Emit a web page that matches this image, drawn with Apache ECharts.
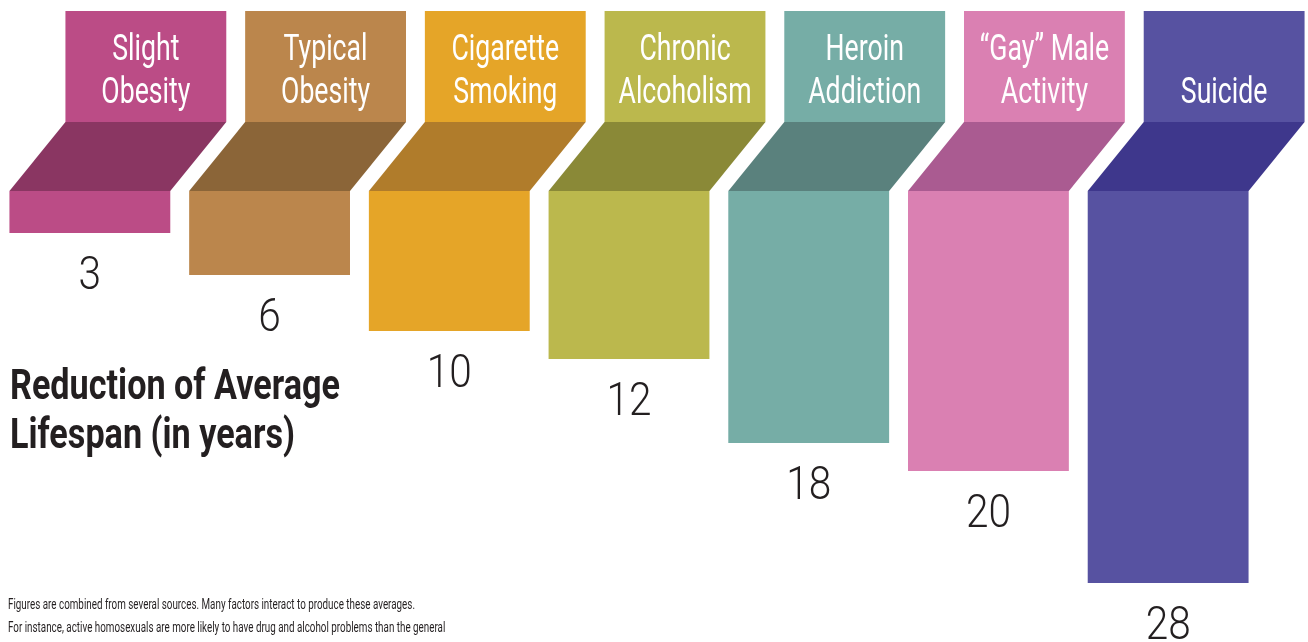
<!DOCTYPE html>
<html><head><meta charset="utf-8">
<script src="https://cdn.jsdelivr.net/npm/echarts@6/dist/echarts.min.js"></script>
<style>html,body{margin:0;padding:0;background:#fff;overflow:hidden}#c{width:1308px;height:642px;}</style>
</head><body><div id="c"></div>
<script>
// ---- data ----
const categories = ['Slight\nObesity', 'Typical\nObesity', 'Cigarette\nSmoking', 'Chronic\nAlcoholism', 'Heroin\nAddiction', '\u201CGay\u201D Male\nActivity', 'Suicide'];
const reductionYears = [3, 6, 10, 12, 18, 20, 28];
const titleLines = ['Reduction of Average', 'Lifespan (in years)'];
const noteLines = [
  'Figures are combined from several sources. Many factors interact to produce these averages.',
  'For instance, active homosexuals are more likely to have drug and alcohol problems than the general'
];
// ---- styles ----
const boxColors  = ['#BB4C86', '#BB864C', '#E5A528', '#BBB84D', '#76ADA6', '#DA80B2', '#5752A1'];
const foldColors = ['#8A3662', '#8B6538', '#B07C2B', '#8A8937', '#5A817D', '#AA5B91', '#3E378C'];
const INK = '#231F20';
const FONT = 'Roboto, "Liberation Sans", sans-serif';

const mctx = document.createElement('canvas').getContext('2d');
function fitScale(text, font, width) { mctx.font = font; return width / mctx.measureText(text).width; }

const labelSize = 37, valueSize = 46, noteSize = 15;
const labelScale = fitScale('Alcoholism', `normal ${labelSize}px Roboto`, 133);
const valueScale = fitScale('20', `300 ${valueSize}px Roboto`, 45);
const titleScale = fitScale(titleLines[0], `bold 43px Roboto`, 330);
const noteScale = fitScale(noteLines[0], `normal ${noteSize}px Roboto`, 407);

const chart = echarts.init(document.getElementById('c'), null, {renderer: 'canvas'});

function renderItem(params, api) {
  const i = api.value(0), v = api.value(1);
  const base = api.coord([i, 0]);
  const end = api.coord([i, v]);
  const band = api.size([1, 0])[0];
  const bw = band * 0.895;
  const xL = base[0] - bw / 2;
  const shift = 56, foldH = 69, boxH = 111;
  const y0 = base[1];
  const boxTop = y0 - foldH - boxH, boxBot = y0 - foldH;
  return {
    type: 'group',
    children: [
      {type: 'rect', shape: {x: xL + shift, y: boxTop, width: bw, height: boxH}, style: {fill: boxColors[i]}},
      {type: 'polygon', shape: {points: [[xL + shift, boxBot], [xL + shift + bw, boxBot], [xL + bw, y0], [xL, y0]]}, style: {fill: foldColors[i]}},
      {type: 'rect', shape: {x: xL, y: y0, width: bw, height: end[1] - y0}, style: {fill: boxColors[i]}},
      {type: 'text', x: xL + shift + bw / 2, y: y0 - 76, scaleX: labelScale,
        style: {text: categories[i], fill: '#fff', fontSize: labelSize, fontFamily: FONT, fontWeight: 'normal',
          align: 'center', verticalAlign: 'bottom', lineHeight: 43}},
      {type: 'text', x: base[0], y: end[1] + 44, scaleX: valueScale,
        style: {text: String(v), fill: INK, fontSize: valueSize, fontFamily: FONT, fontWeight: 300,
          align: 'center', verticalAlign: 'middle'}}
    ]
  };
}

chart.setOption({
  animation: false,
  backgroundColor: '#fff',
  grid: {left: 0, right: 50, top: 191, bottom: 3},
  xAxis: {type: 'category', data: categories, show: false, boundaryGap: true},
  yAxis: {type: 'value', inverse: true, min: 0, max: 32, show: false},
  series: [{
    type: 'custom',
    renderItem: renderItem,
    data: reductionYears.map((v, i) => [i, v]),
    clip: false
  }],
  graphic: [
    {type: 'text', x: 10, y: 364, scaleX: titleScale,
      style: {text: titleLines.join('\n'), fill: INK, fontSize: 43, fontWeight: 'bold', fontFamily: FONT,
        lineHeight: 49, verticalAlign: 'top', align: 'left'}},
    {type: 'text', x: 8, y: 605, scaleX: noteScale,
      style: {text: noteLines[0], fill: INK, fontSize: noteSize, fontFamily: FONT, verticalAlign: 'middle', align: 'left'}},
    {type: 'text', x: 8, y: 628, scaleX: noteScale,
      style: {text: noteLines[1], fill: INK, fontSize: noteSize, fontFamily: FONT, verticalAlign: 'middle', align: 'left'}}
  ]
});
</script></body></html>
